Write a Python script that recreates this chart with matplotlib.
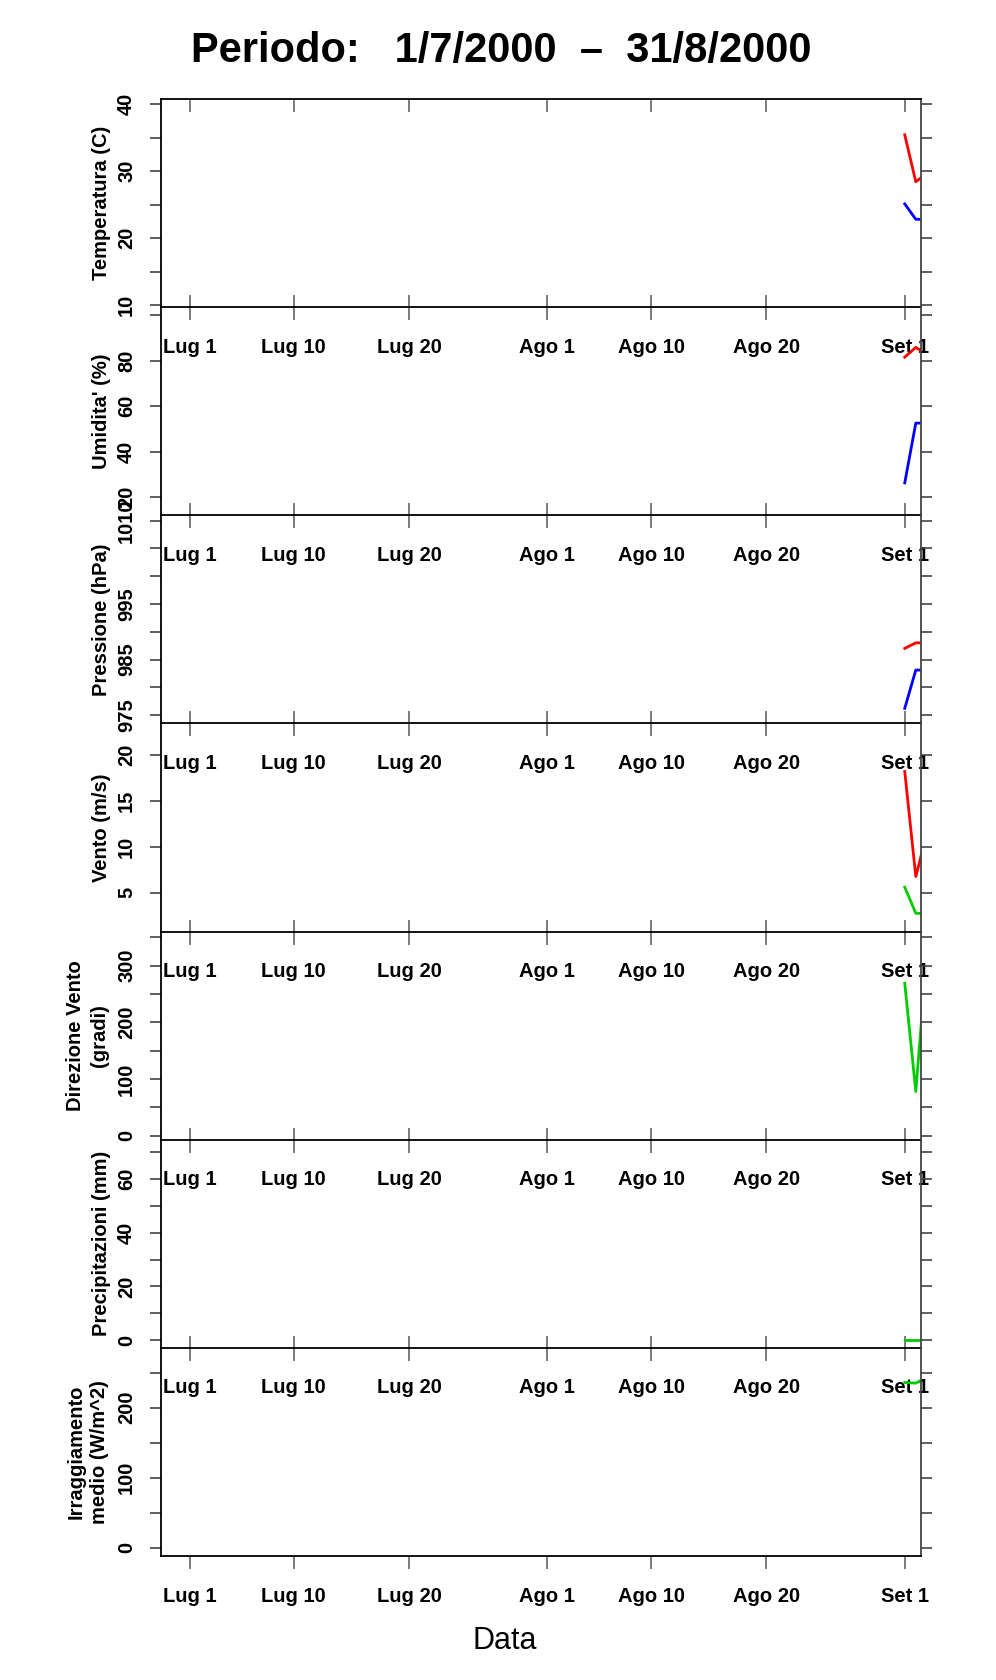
import matplotlib
matplotlib.use('Agg')
import matplotlib.pyplot as plt
import matplotlib.dates as mdates
import matplotlib.transforms as mtransforms

plt.rcParams['font.family'] = ['Liberation Sans', 'DejaVu Sans']
plt.rcParams['font.weight'] = 'bold'

# --- data (only the last days of the period have values) ---
times = ['2000-09-01 00:00', '2000-09-01 23:00', '2000-09-02 12:00']
temp_max = [35.4, 28.4, 29.1]
temp_min = [25.1, 22.8, 22.8]
umid_max = [81.5, 85.8, 84.1]
umid_min = [26.2, 52.5, 52.5]
press_max = [987.0, 988.0, 988.0]
press_min = [976.2, 983.1, 983.1]
vento_max = [18.2, 6.75, 9.4]
vento_med = [5.6, 2.75, 2.75]
dir_vento = [269, 78, 215]
precip = [0, 0, 0]
irragg = [236, 235, 240]

tick_dates = ['2000-07-01', '2000-07-10', '2000-07-20', '2000-08-01',
              '2000-08-10', '2000-08-20', '2000-09-01']
tick_labels = ['Lug 1', 'Lug 10', 'Lug 20', 'Ago 1', 'Ago 10', 'Ago 20', 'Set 1']

x = mdates.datestr2num(times)
xt = mdates.datestr2num(tick_dates)
xlim = (xt[0] - 2.52, xt[-1] + 1.41)

RED, BLUE, GREEN = '#ff0000', '#0000ff', '#00cd00'

panels = [
    dict(label='Temperatura (C)', ylim=(9.69, 40.75),
         ticks=[10, 15, 20, 25, 30, 35, 40], labels={10, 20, 30, 40},
         series=[(temp_max, RED), (temp_min, BLUE)]),
    dict(label="Umidita' (%)", ylim=(11.96, 103.5),
         ticks=[20, 40, 60, 80, 100], labels={20, 40, 60, 80},
         series=[(umid_max, RED), (umid_min, BLUE)]),
    dict(label='Pressione (hPa)', ylim=(973.49, 1010.97),
         ticks=[975, 980, 985, 990, 995, 1000, 1005, 1010], labels={975, 985, 995, 1010},
         series=[(press_max, RED), (press_min, BLUE)]),
    dict(label='Vento (m/s)', ylim=(0.76, 23.44),
         ticks=[5, 10, 15, 20], labels={5, 10, 15, 20},
         series=[(vento_max, RED), (vento_med, GREEN)]),
    dict(label='Direzione Vento\n(gradi)', ylim=(-7.06, 360.2),
         ticks=[0, 50, 100, 150, 200, 250, 300, 350], labels={0, 100, 200, 300},
         series=[(dir_vento, GREEN)]),
    dict(label='Precipitazioni (mm)', ylim=(-2.95, 74.7),
         ticks=[0, 10, 20, 30, 40, 50, 60, 70], labels={0, 20, 40, 60},
         series=[(precip, GREEN)]),
    dict(label='Irraggiamento\nmedio (W/m^2)', ylim=(-11.9, 285.4),
         ticks=[0, 50, 100, 150, 200, 250], labels={0, 100, 200},
         series=[(irragg, GREEN)]),
]

W, H = 996, 1680
fig = plt.figure(figsize=(W / 100, H / 100), dpi=100)

left_px, right_px = 161, 921
top_px, bottom_px = 99, 1556
ph = (bottom_px - top_px) / len(panels)

for i, p in enumerate(panels):
    y_top = top_px + i * ph
    ax = fig.add_axes([left_px / W, 1 - (y_top + ph) / H,
                       (right_px - left_px) / W, ph / H])
    ax.patch.set_visible(False)
    for vals, col in p['series']:
        ax.plot(x, vals, color=col, lw=2.0)
    ax.set_xlim(xlim)
    ax.set_ylim(p['ylim'])

    for s in ax.spines.values():
        s.set_linewidth(1.3)
        s.set_color('black')
    ax.spines['right'].set_color('#444444')
    if i > 0:
        ax.spines['top'].set_visible(False)

    # x axis
    ax.set_xticks(xt)
    ax.set_xticklabels(tick_labels, fontsize=14.5, fontweight='bold')
    last = i == len(panels) - 1
    ax.tick_params(axis='x', direction='out' if last else 'inout',
                   length=9 if last else 18, width=1.2, color='#666666',
                   pad=13)
    if i == 0:
        sec = ax.secondary_xaxis('top')
        sec.set_xticks(xt)
        sec.set_xticklabels([])
        sec.tick_params(direction='in', length=9.5, width=1.2, color='#666666')
        sec.spines['top'].set_visible(False)

    # y axis
    ax.set_yticks(p['ticks'])
    ax.set_yticklabels([str(t) if t in p['labels'] else '' for t in p['ticks']],
                       fontsize=14.5, fontweight='bold', rotation=90, va='center')
    ax.tick_params(axis='y', direction='out', length=8, width=1.2,
                   color='#444444', right=True, pad=10)

    trans = mtransforms.blended_transform_factory(fig.transFigure, ax.transAxes)
    xl = 87.5 if '\n' in p['label'] else 101.5
    ax.text(xl / W, 0.5, p['label'], transform=trans, rotation=90,
            ha='center', va='center', fontsize=14.5, fontweight='bold',
            linespacing=1.3, multialignment='center')

fig.text(0.5035, 1 - 51 / H, 'Periodo:   1/7/2000  \u2013  31/8/2000',
         fontsize=30, fontweight='bold', ha='center', va='center')
fig.text(505 / W, 1 - 1641 / H, 'Data', fontsize=22, fontweight='normal',
         ha='center', va='center')

fig.savefig('out.png', dpi=100, facecolor='white')
